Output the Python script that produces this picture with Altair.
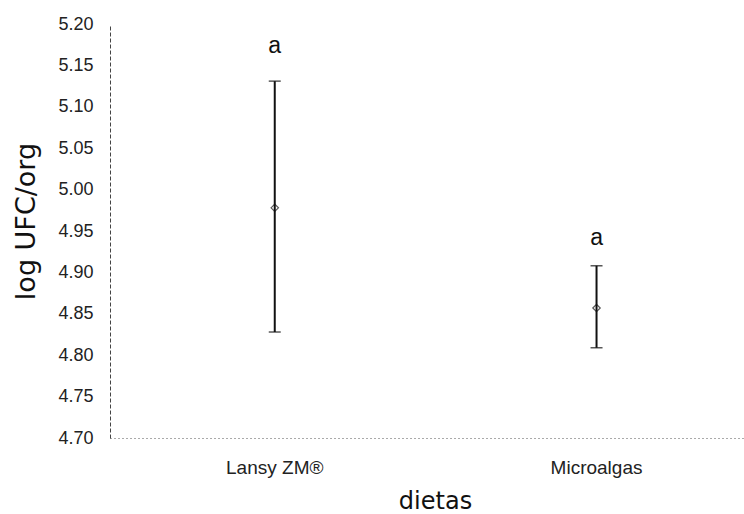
import altair as alt
import pandas as pd

dietas = ["Lansy ZM®", "Microalgas"]
media = [4.978, 4.857]
superior = [5.131, 4.908]
inferior = [4.828, 4.809]
letras = ["a", "a"]
letra_y = [5.174, 4.942]

df = pd.DataFrame({
    "dieta": dietas, "media": media, "sup": superior, "inf": inferior,
    "letra": letras, "ly": letra_y,
})

FONT = "Liberation Sans"
TFONT = "DejaVu Sans"

x = alt.X("dieta:N", sort=dietas, title="dietas",
          scale=alt.Scale(paddingInner=0, paddingOuter=0.01, align=0.6, range=[0, 650]),
          axis=alt.Axis(labelAngle=0, labelFontSize=19, labelFont=FONT, labelColor="#222",
                        labelBaseline="alphabetic", labelPadding=35,
                        titleFontSize=24, titleFont=TFONT, titleFontWeight="normal", titleColor="#111",
                        titleBaseline="alphabetic", titleY=70,
                        ticks=False,
                        domainColor="#555", domainDash=[1, 3], domainWidth=1))
y_scale = alt.Scale(domain=[4.70, 5.20], nice=False, zero=False)
y_axis = alt.Axis(values=[4.70, 4.75, 4.80, 4.85, 4.90, 4.95, 5.00, 5.05, 5.10, 5.15, 5.20],
                  format=".2f", grid=False, ticks=False, labelPadding=17,
                  labelFontSize=18, labelFont=FONT, labelColor="#222",
                  titleFontSize=27, titleFont=TFONT, titleFontWeight="normal", titleColor="#111",
                  titleAngle=-90, titleAlign="center", titleBaseline="bottom",
                  titleX=-70, titleY=197,
                  domainColor="#444", domainDash=[4, 2], domainWidth=1)

base = alt.Chart(df)

rule = base.mark_rule(color="#111", strokeWidth=2).encode(
    x=x, y=alt.Y("inf:Q", scale=y_scale, axis=y_axis, title="log UFC/org"), y2="sup:Q")
cap_top = base.mark_tick(color="#111", size=12, thickness=1.5, orient="horizontal").encode(
    x=x, y=alt.Y("sup:Q", scale=y_scale))
cap_bot = base.mark_tick(color="#111", size=12, thickness=1.5, orient="horizontal").encode(
    x=x, y=alt.Y("inf:Q", scale=y_scale))
pt = base.mark_point(shape="diamond", size=55, filled=False, color="#111", strokeWidth=1.2).encode(
    x=x, y=alt.Y("media:Q", scale=y_scale))
txt = base.mark_text(fontSize=23, font=FONT, color="#111", baseline="middle").encode(
    x=x, y=alt.Y("ly:Q", scale=y_scale), text="letra:N")

chart = alt.layer(rule, cap_top, cap_bot, pt, txt).properties(
    width=632, height=414,
    background="white",
    autosize=alt.AutoSizeParams(type="none"),
    padding={"left": 110, "top": 24, "right": 2, "bottom": 76},
).configure_view(strokeWidth=0)

chart.save("out.html", embed_options={"renderer": "svg", "actions": False})
